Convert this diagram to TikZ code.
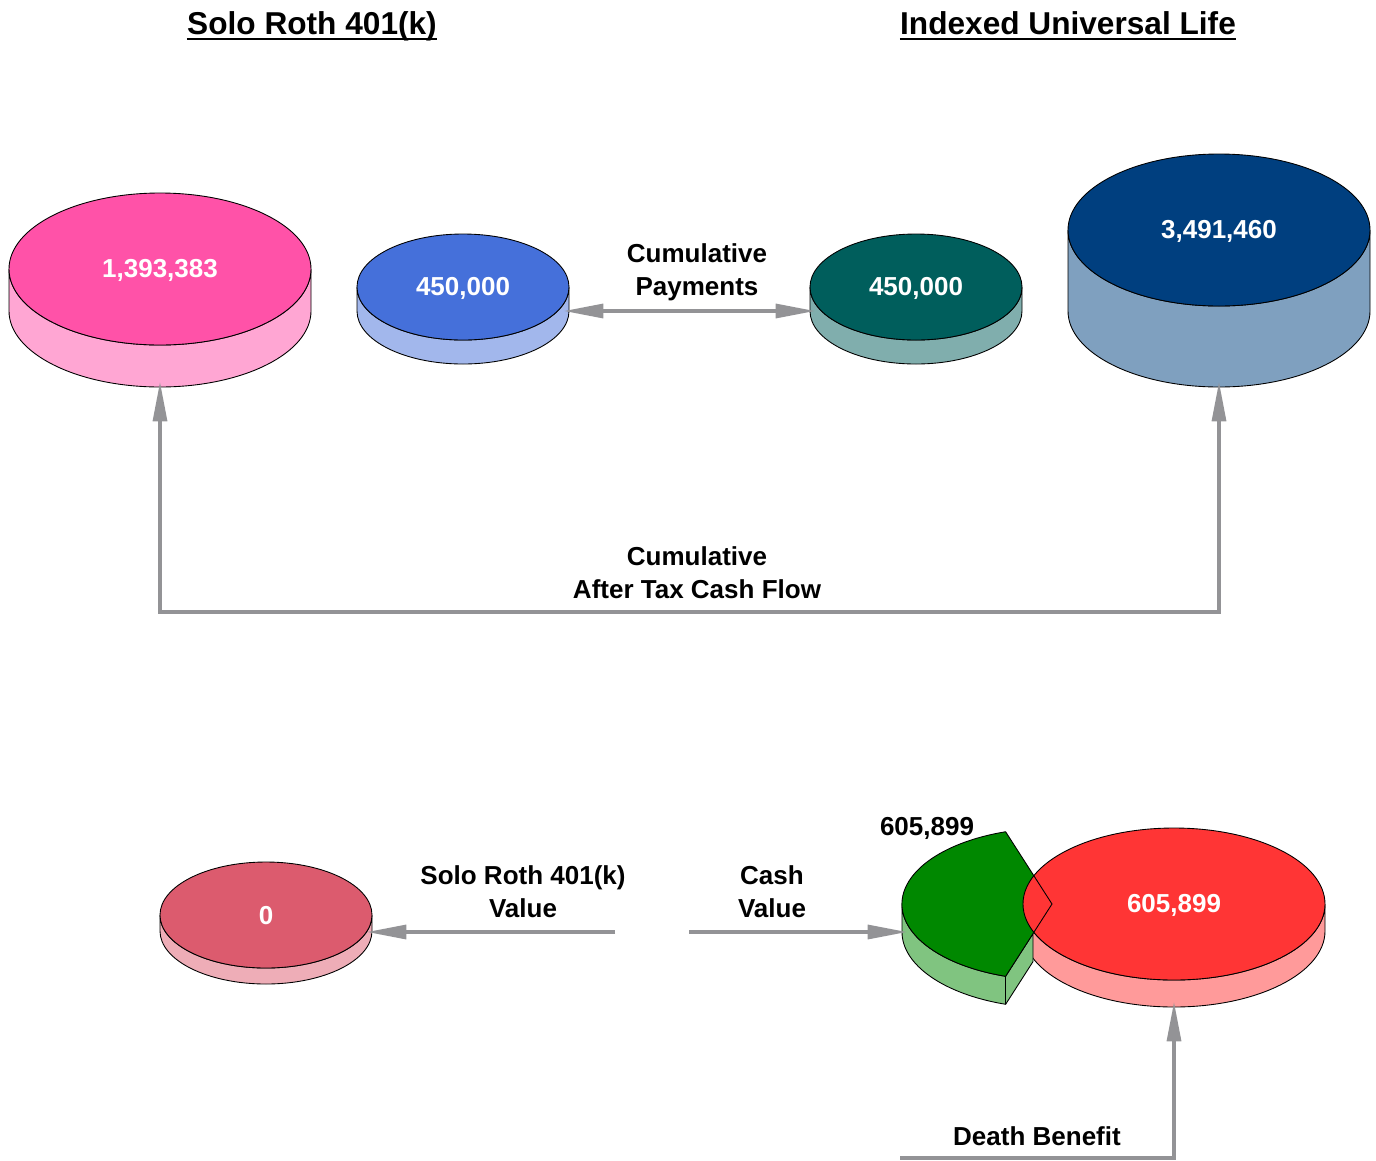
\documentclass[tikz,border=0pt]{standalone}
\usepackage{fontspec}
\setmainfont{Liberation Sans}
\usetikzlibrary{arrows.meta}

\definecolor{rothpink}{HTML}{FF52A8}
\definecolor{rothpinkside}{HTML}{FFA6D3}
\definecolor{paidblue}{HTML}{4570DA}
\definecolor{paidblueside}{HTML}{A2B7EC}
\definecolor{paidteal}{HTML}{005E5C}
\definecolor{paidtealside}{HTML}{80AEAD}
\definecolor{iulnavy}{HTML}{003F7F}
\definecolor{iulnavyside}{HTML}{7FA0BF}
\definecolor{zerored}{HTML}{DC5B6E}
\definecolor{zeroredside}{HTML}{EEADB7}
\definecolor{deathred}{HTML}{FF3535}
\definecolor{deathredside}{HTML}{FF9A9A}
\definecolor{cashgreen}{HTML}{008800}
\definecolor{cashgreenside}{HTML}{80C480}
\definecolor{flowgray}{HTML}{939396}

% disk: centre x, centre y, x radius, y radius, depth, top colour, side colour
\newcommand{\moneydisk}[7]{%
  \filldraw[fill=#7, draw=black, line width=0.5pt] (#1-#3,#2) -- (#1-#3,#2+#5)
    arc[start angle=180, end angle=0, x radius=#3, y radius=#4] -- (#1+#3,#2)
    arc[start angle=0, end angle=180, x radius=#3, y radius=#4] -- cycle;
  \filldraw[fill=#6, draw=black, line width=0.5pt] (#1,#2) ellipse[x radius=#3, y radius=#4];
}

\begin{document}
\begin{tikzpicture}[x=0.02cm, y=-0.02cm,
    ttl/.style={font=\bfseries\fontsize{18}{22}\selectfont, anchor=base, inner sep=0pt},
    lbl/.style={font=\bfseries\fontsize{14.8}{18.7}\selectfont, align=center, inner sep=0pt},
    val/.style={lbl, text=white},
    flow/.style={draw=flowgray, line width=1.8pt, shorten >=-2.5pt},
    >={Triangle[length=22pt, width=8.5pt, line width=0pt]}]
    \useasboundingbox (0,0) rectangle (1376,1160);

    \node[ttl] (rothtitle) at (312,34) {Solo Roth 401(k)};
    \node[ttl] (iultitle) at (1068,34) {Indexed Universal Life};
    \draw[line width=1.2pt] ([yshift=-3pt]rothtitle.base west) -- ([yshift=-3pt]rothtitle.base east);
    \draw[line width=1.2pt] ([yshift=-3pt]iultitle.base west) -- ([yshift=-3pt]iultitle.base east);

    \moneydisk{160}{269}{151}{76}{42}{rothpink}{rothpinkside}
    \moneydisk{463}{287}{106}{53}{24}{paidblue}{paidblueside}
    \moneydisk{916}{287}{106}{53}{24}{paidteal}{paidtealside}
    \moneydisk{1219}{230}{151}{76}{81}{iulnavy}{iulnavyside}
    \moneydisk{266}{915}{106}{53}{16}{zerored}{zeroredside}

    % red side, green wedge, red top
    \filldraw[fill=deathredside, draw=black, line width=0.5pt] (1023,904) -- (1023,931)
      arc[start angle=180, end angle=0, x radius=151, y radius=76] -- (1325,904)
      arc[start angle=0, end angle=180, x radius=151, y radius=76] -- cycle;
    \filldraw[fill=cashgreenside, draw=black, line width=0.5pt] (902,904) -- (902,932)
      arc[start angle=180, end angle=108, x radius=150, y radius=76]
      -- (1033,961.6) -- (1033,933.6) -- (1005.6,976.3)
      arc[start angle=108, end angle=180, x radius=150, y radius=76] -- cycle;
    \draw[black, line width=0.5pt] (1005.6,976.3) -- (1005.6,1004.3);
    \fill[cashgreen] (1052,904) -- (1005.6,976.3)
      arc[start angle=108, end angle=252, x radius=150, y radius=76] -- cycle;
    \filldraw[fill=deathred, draw=black, line width=0.5pt] (1174,904) ellipse[x radius=151, y radius=76];
    \draw[black, line width=0.5pt] (1052,904) -- (1005.6,976.3)
      arc[start angle=108, end angle=252, x radius=150, y radius=76] -- cycle;

    \node[val] (rothval) at (160,270) {1,393,383};
    \node[val] (rothpaid) at (463,288) {450,000};
    \node[val] (iulpaid) at (916,288) {450,000};
    \node[val] (iulval) at (1219,231) {3,491,460};
    \node[val] (rothdeath) at (266,916) {0};
    \node[val] (iuldeath) at (1174,905) {605,899};
    \node[lbl] (iulcash) at (927,828) {605,899};

    \node[lbl] (paylbl) at (697,272) {Cumulative\\Payments};
    \node[lbl] (flowlbl) at (697,573) {Cumulative\\After Tax Cash Flow};
    \node[lbl] (rothlbl) at (523,892) {Solo Roth 401(k)\\Value};
    \node[lbl] (cashlbl) at (772,892) {Cash\\Value};
    \node[lbl] (deathlbl) at (1037,1136) {Death Benefit};

    \coordinate (blueE) at (569,311);
    \coordinate (tealW) at (810,311);
    \coordinate (pinkB) at (160,387);
    \coordinate (navyB) at (1219,387);
    \coordinate (zeroE) at (372,932);
    \coordinate (rothstart) at (615,932);
    \coordinate (cashstart) at (689,932);
    \coordinate (greenW) at (902,932);
    \coordinate (deathstart) at (900,1158);
    \coordinate (redB) at (1174,1007);

    \draw[flow, <->, shorten <=-2.5pt] (blueE) -- (tealW);
    \draw[flow, <->, shorten <=-2.5pt] (pinkB) -- ++(0,225) -| (navyB);
    \draw[flow, ->] (rothstart) -- (zeroE);
    \draw[flow, ->] (cashstart) -- (greenW);
    \draw[flow, ->] (deathstart) -| (redB);
\end{tikzpicture}
\end{document}
